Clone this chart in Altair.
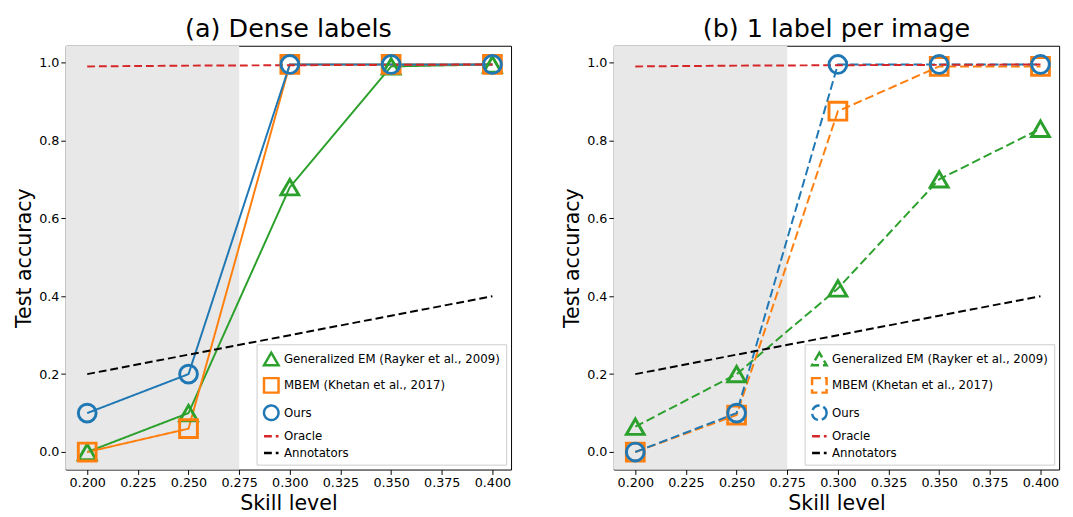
import altair as alt
import pandas as pd

skill = [0.2, 0.25, 0.3, 0.35, 0.4]
series = ["Generalized EM (Rayker et al., 2009)", "MBEM (Khetan et al., 2017)", "Ours", "Oracle", "Annotators"]
colors = ["#2ca02c", "#ff7f0e", "#1f77b4", "#d62728", "black"]
shapes = ["triangle-up", "square", "circle", "stroke", "stroke"]

oracle = [0.99, 0.992, 0.993, 0.994, 0.995]
annotators = [0.2, 0.25, 0.3, 0.35, 0.4]

dense = {
    series[0]: [0.0, 0.1, 0.68, 0.99, 0.995],
    series[1]: [0.0, 0.06, 0.995, 0.995, 0.995],
    series[2]: [0.1, 0.2, 0.995, 0.995, 0.995],
}
single = {
    series[0]: [0.065, 0.2, 0.42, 0.70, 0.83],
    series[1]: [0.0, 0.095, 0.875, 0.99, 0.99],
    series[2]: [0.0, 0.1, 0.995, 0.995, 0.995],
}

shade = pd.DataFrame({"x": [0.1894], "x2": [0.275], "y": [-0.045], "y2": [1.043]})


def panel(values, title, dash):
    rows = []
    for name, ys in values.items():
        rows += [{"skill": s, "acc": a, "series": name} for s, a in zip(skill, ys)]
    rows += [{"skill": s, "acc": a, "series": "Oracle"} for s, a in zip(skill, oracle)]
    rows += [{"skill": s, "acc": a, "series": "Annotators"} for s, a in zip(skill, annotators)]
    df = pd.DataFrame(rows)

    xs = alt.Scale(domain=[0.1894, 0.4092], nice=False, zero=False)
    ys = alt.Scale(domain=[-0.045, 1.043], nice=False)
    x = alt.X("skill:Q", scale=xs, title="Skill level",
              axis=alt.Axis(values=[0.2 + 0.025 * i for i in range(9)], format=".3f"))
    y = alt.Y("acc:Q", scale=ys, title="Test accuracy",
              axis=alt.Axis(values=[0, 0.2, 0.4, 0.6, 0.8, 1.0], format=".1f"))
    leg = alt.Legend(title=None, orient="bottom-right", labelFontSize=12, symbolSize=220,
                     symbolStrokeWidth=2.5, symbolFillColor="transparent", offset=5,
                     fillColor="white", strokeColor="#cccccc", padding=6, labelLimit=300)
    color = alt.Color("series:N", scale=alt.Scale(domain=series, range=colors), legend=leg)
    shape = alt.Shape("series:N", scale=alt.Scale(domain=series, range=shapes), legend=leg)
    sdash = alt.StrokeDash("series:N", scale=alt.Scale(
        domain=series, range=[dash, dash, dash, [8, 4], [8, 4]]), legend=leg)
    sw = alt.StrokeWidth("series:N", scale=alt.Scale(
        domain=series, range=[2 if dash == [1, 0] else 3] * 3 + [3, 3]), legend=None)

    bg = alt.Chart(shade).mark_rect(color="#e8e8e8").encode(
        x=alt.X("x:Q", scale=xs), x2="x2", y=alt.Y("y:Q", scale=ys), y2="y2")
    lines = alt.Chart(df).mark_line().encode(
        x=x, y=y, color=color, strokeDash=sdash, strokeWidth=sw, shape=shape,
        fill=alt.value("transparent"))
    pts = alt.Chart(df).transform_filter(
        alt.FieldOneOfPredicate(field="series", oneOf=series[:3])
    ).mark_point(filled=False, size=330, strokeWidth=3, opacity=1).encode(
        x=x, y=y, color=color, shape=shape)
    return alt.layer(bg, lines, pts).properties(
        width=455, height=433,
        title=alt.Title(title, fontSize=26, fontWeight="normal"))


chart = alt.hconcat(
    panel(dense, "(a) Dense labels", [1, 0]),
    panel(single, "(b) 1 label per image", [9, 4]),
    spacing=50,
).resolve_scale(color="independent", shape="independent", strokeDash="independent").configure(
    font="DejaVu Sans"
).configure_view(stroke="black", strokeWidth=1).configure_axis(
    grid=False, labelFontSize=13, titleFontSize=21, titleFontWeight="normal",
    labelColor="black", titleColor="black", domain=False, tickColor="black"
).properties(padding={"left": 5, "top": 2, "right": 5, "bottom": 2})

chart.save("out.html", embed_options={"renderer": "svg", "actions": False})
